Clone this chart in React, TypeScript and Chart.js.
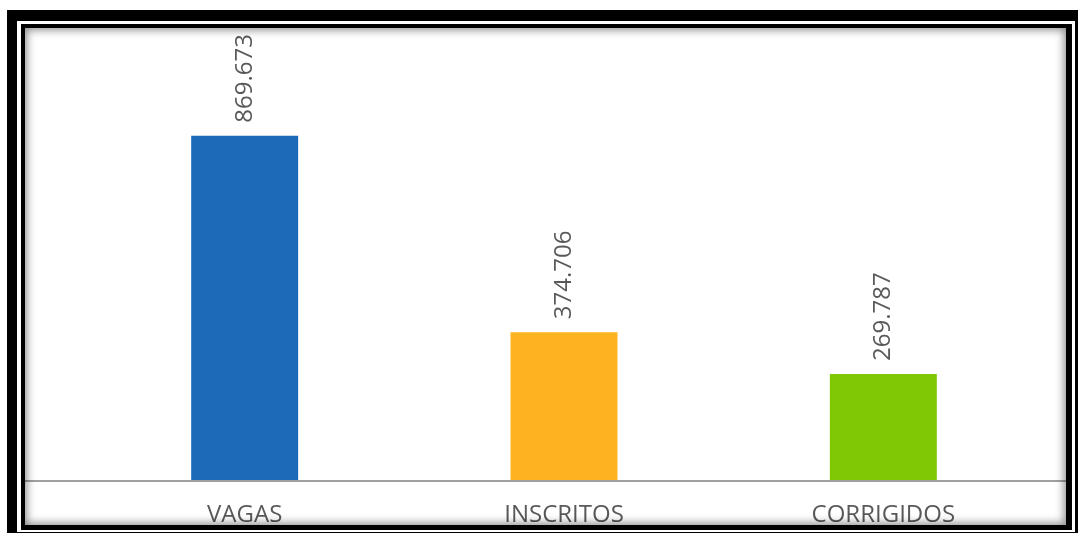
import React, { useEffect, useRef } from "react";
import { Chart, registerables } from "chart.js";

Chart.register(...registerables);

const categories = ["VAGAS", "INSCRITOS", "CORRIGIDOS"];
const values = [869673, 374706, 269787];
const valueLabels = ["869.673", "374.706", "269.787"];
const barColors = ["#1c6ab8", "#fdb21f", "#80c804"];

const FONT = "'Open Sans', 'DejaVu Sans', sans-serif";

const overlayPlugin = {
  id: "overlay",
  afterDatasetsDraw(chart: any) {
    const { ctx } = chart;
    const meta = chart.getDatasetMeta(0);
    const yScale = chart.scales.y;
    const base = yScale.getPixelForValue(0);
    ctx.save();
    // axis line
    ctx.strokeStyle = "#a0a0a0";
    ctx.lineWidth = 2;
    ctx.beginPath();
    ctx.moveTo(24, base);
    ctx.lineTo(1070, base);
    ctx.stroke();
    // rotated value labels
    ctx.fillStyle = "#595959";
    ctx.font = `24px ${FONT}`;
    ctx.textAlign = "left";
    ctx.textBaseline = "middle";
    meta.data.forEach((bar: any, i: number) => {
      ctx.save();
      ctx.translate(bar.x, bar.y - 13);
      ctx.rotate(-Math.PI / 2);
      ctx.fillText(valueLabels[i], 0, 0);
      ctx.restore();
    });
    ctx.restore();
  },
};

export default function App() {
  const ref = useRef<HTMLCanvasElement | null>(null);
  useEffect(() => {
    if (!ref.current) return;
    const chart = new Chart(ref.current, {
      type: "bar",
      data: {
        labels: categories,
        datasets: [
          {
            data: values,
            backgroundColor: barColors,
            borderWidth: 0,
            barPercentage: 0.335,
            categoryPercentage: 1,
          },
        ],
      },
      options: {
        animation: false,
        responsive: false,
        maintainAspectRatio: false,
        layout: { padding: { left: 85, right: 35, top: 84, bottom: 0 } },
        plugins: { legend: { display: false }, tooltip: { enabled: false } },
        scales: {
          x: {
            grid: { display: false },
            border: { display: false },
            ticks: {
              color: "#595959",
              font: { family: FONT, size: 24 },
              padding: 12,
              maxRotation: 0,
            },
            afterFit: (scale: any) => {
              scale.height = 52;
            },
          },
          y: {
            display: false,
            min: 0,
            max: 1000000,
          },
        },
      },
      plugins: [overlayPlugin],
    });
    return () => chart.destroy();
  }, []);

  return (
    <div style={{ position: "fixed", left: 0, top: 0, width: 1078, height: 533, background: "#fff", overflow: "hidden" }}>
      <canvas ref={ref} width={1078} height={533} style={{ position: "absolute", left: 0, top: 0 }} />
      <div
        style={{
          position: "absolute",
          left: 7,
          top: 10,
          width: 1076,
          height: 530,
          boxSizing: "border-box",
          borderStyle: "solid",
          borderColor: "#000",
          borderWidth: "11px 8px 8px 10px",
          pointerEvents: "none",
        }}
      />
      <div
        style={{
          position: "absolute",
          left: 21,
          top: 24,
          width: 1051,
          height: 506,
          boxSizing: "border-box",
          borderStyle: "solid",
          borderColor: "#000",
          borderWidth: "4px 6px 5px 4px",
          boxShadow: "inset 0 0 9px 2px rgba(0,0,0,0.45)",
          pointerEvents: "none",
        }}
      />
    </div>
  );
}
